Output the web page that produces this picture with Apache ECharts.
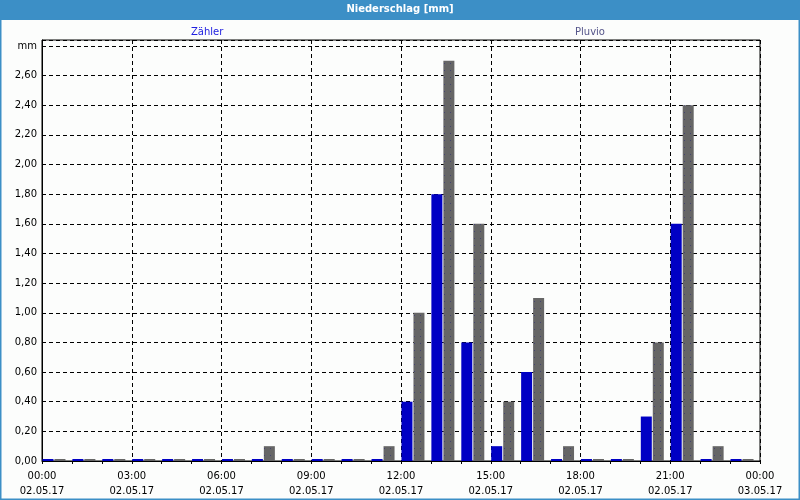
<!DOCTYPE html>
<html>
<head>
<meta charset="utf-8">
<script src="https://cdn.jsdelivr.net/npm/echarts@6/dist/echarts.min.js"></script>
<style>html,body{margin:0;padding:0;background:#fcfdfc;}#c{width:800px;height:500px;}</style>
</head>
<body>
<div id="c"></div>
<script>
// Hourly categories (02.05.17)
var hours = ['00','01','02','03','04','05','06','07','08','09','10','11','12','13','14','15','16','17','18','19','20','21','22','23'];
// Series values [mm]
var zaehler = [0,0,0,0,0,0,0,0,0,0,0,0,0.4,1.8,0.8,0.1,0.6,0,0,0,0.3,1.6,0,0];
var pluvio  = [0,0,0,0,0,0,0,0.1,0,0,0,0.1,1.0,2.7,1.6,0.4,1.1,0.1,0,0,0.8,2.4,0.1,0];
// X tick labels (every 3 hours)
var timeLabels = ['00:00','03:00','06:00','09:00','12:00','15:00','18:00','21:00','00:00'];
var dateLabels = ['02.05.17','02.05.17','02.05.17','02.05.17','02.05.17','02.05.17','02.05.17','02.05.17','03.05.17'];
var seriesNames = ['Zähler','Pluvio'];

var font = 'DejaVu Sans';
var chart = echarts.init(document.getElementById('c'), null, {renderer:'canvas'});
chart.setOption({
  backgroundColor: '#fcfdfc',
  animation: false,
  graphic: [
    {type:'rect', z:0, shape:{x:0,y:0,width:800,height:20}, style:{fill:'#3c8fc6'}},
    {type:'rect', z:0, shape:{x:0.5,y:0.5,width:799,height:499}, style:{fill:null, stroke:'#3c8fc6', lineWidth:2}}
  ],
  title: {
    text: 'Niederschlag [mm]', left: 'center', top: 4, padding: 0,
    textStyle: {color:'#ffffff', fontFamily: font, fontSize: 10, fontWeight:'bold'}
  },
  legend: [
    {data:[seriesNames[0]], left:186, top:25, padding:0, itemWidth:0, itemGap:0, icon:'none', selectedMode:false,
     textStyle:{color:'#2020e0', fontFamily:font, fontSize:10}},
    {data:[seriesNames[1]], left:570, top:25, padding:0, itemWidth:0, itemGap:0, icon:'none', selectedMode:false,
     textStyle:{color:'#55558a', fontFamily:font, fontSize:10}}
  ],
  grid: {left:42, right:40, top:40, bottom:39, show:true, borderColor:'#000', borderWidth:1, backgroundColor:'transparent', z:0},
  xAxis: [
    {type:'category', data:hours, show:false, boundaryGap:true},
    {type:'value', min:0, max:24, interval:3, position:'bottom', z:1,
     axisLine:{show:true, lineStyle:{color:'#000', width:1}},
     axisTick:{show:true, length:3, lineStyle:{color:'#000'}},
     minorTick:{show:true, splitNumber:3, length:3, lineStyle:{color:'#000'}},
     splitLine:{show:true, lineStyle:{color:'#000', type:[4,3], width:1}},
     axisLabel:{margin:8, color:'#000', fontFamily:font, fontSize:10, lineHeight:15,
       formatter:function(v){var i=Math.round(v/3); return timeLabels[i]+'\n'+dateLabels[i];}}
    }
  ],
  yAxis: {
    type:'value', min:0, max:2.84, interval:0.2, z:1,
    axisLine:{show:true, lineStyle:{color:'#000'}},
    axisTick:{show:false},
    splitLine:{show:true, lineStyle:{color:'#000', type:[4,3], width:1}},
    axisLabel:{margin:5, color:'#000', fontFamily:font, fontSize:10,
      formatter:function(v){
        if (v > 2.81) return '';
        if (Math.abs(v-2.8) < 1e-6) return 'mm';
        return v.toFixed(2).replace('.',',');
      }}
  },
  series: [
    {name:seriesNames[0], type:'bar', xAxisIndex:0, z:10, data:zaehler, barWidth:11, barGap:'9%', barMinHeight:2,
     itemStyle:{color:'#0000c4'}},
    {name:seriesNames[1], type:'bar', xAxisIndex:0, z:10, data:pluvio, barWidth:11, barGap:'9%', barMinHeight:2,
     itemStyle:{color:'#666666',
       decal:{symbol:'rect', symbolSize:1, dashArrayX:[1,5], dashArrayY:[1,6], color:'rgba(40,40,120,0.55)', rotation:0}}},
    // empty spacer series: reproduces the left-shifted bar group of the original
    {name:'spacer', type:'bar', xAxisIndex:0, data:[], barWidth:5, barGap:'9%', silent:true}
  ]
});
</script>
</body>
</html>
